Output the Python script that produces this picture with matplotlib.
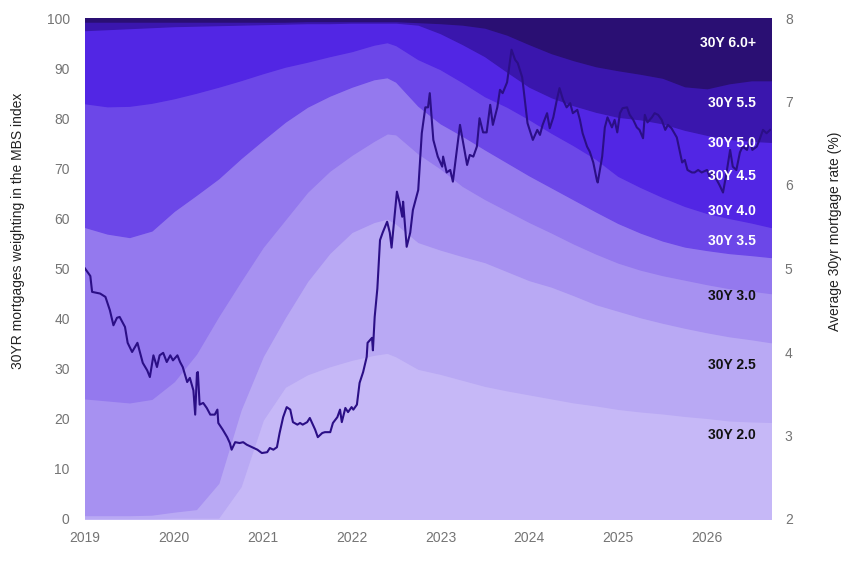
import matplotlib
matplotlib.use("Agg")
import matplotlib.pyplot as plt
import numpy as np

plt.rcParams['font.family'] = ['Liberation Sans', 'DejaVu Sans']

# ---- data ----
years = [2019.0, 2019.25, 2019.5, 2019.75, 2020.0, 2020.25, 2020.5, 2020.75, 2021.0, 2021.25,
         2021.5, 2021.75, 2022.0, 2022.25, 2022.4, 2022.5, 2022.75, 2023.0, 2023.25, 2023.5,
         2023.75, 2024.0, 2024.25, 2024.5, 2024.75, 2025.0, 2025.25, 2025.5, 2025.75, 2026.0,
         2026.25, 2026.5, 2026.72]

coupons = ["30Y 2.0", "30Y 2.5", "30Y 3.0", "30Y 3.5", "30Y 4.0",
           "30Y 4.5", "30Y 5.0", "30Y 5.5", "30Y 6.0+"]

w_20 = [0.2, 0.2, 0.2, 0.2, 0.3, 0.3, 0.3, 6.5, 19.8, 26.4, 28.9, 30.5, 31.8, 32.8, 33.2, 32.5, 30.0,
        29.0, 27.8, 26.6, 25.7, 24.9, 24.1, 23.3, 22.7, 22.0, 21.5, 21.1, 20.6, 20.2, 19.7, 19.5, 19.4]
w_25 = [0.6, 0.6, 0.6, 0.7, 1.2, 1.7, 6.9, 15.3, 12.7, 13.9, 18.6, 22.6, 25.5, 26.5, 26.8, 26.5, 25.3,
        24.8, 24.7, 24.7, 23.8, 22.8, 22.3, 21.4, 20.2, 19.6, 18.8, 18.1, 17.6, 17.1, 16.8, 16.4, 15.9]
w_30 = [23.3, 22.9, 22.5, 23.1, 26.0, 31.0, 33.3, 25.7, 21.8, 19.5, 17.8, 16.4, 15.4, 16.2, 17.0, 17.8, 17.7,
        16.2, 14.0, 12.6, 12.1, 11.6, 10.8, 10.3, 10.1, 9.6, 9.5, 9.5, 9.6, 9.6, 9.6, 9.7, 9.8]
w_35 = [34.2, 33.3, 33.0, 33.6, 34.0, 31.7, 27.5, 24.5, 21.4, 19.5, 17.0, 15.0, 13.6, 12.3, 11.2, 10.5, 9.5,
        9.0, 10.0, 9.9, 9.6, 9.3, 9.0, 8.8, 8.4, 7.9, 7.4, 6.9, 6.6, 6.8, 7.0, 7.1, 7.2]
w_40 = [24.7, 25.4, 26.2, 25.5, 22.5, 20.4, 18.3, 15.6, 13.3, 11.0, 9.0, 7.9, 7.1, 6.9, 7.0, 7.3, 9.3,
        10.8, 10.7, 10.6, 11.1, 11.2, 10.9, 10.8, 10.5, 9.4, 9.1, 8.7, 8.1, 7.4, 7.0, 6.5, 6.0]
w_45 = [12.0, 12.6, 12.6, 12.2, 11.5, 10.6, 9.6, 8.5, 7.4, 6.4, 5.6, 4.7, 4.0, 3.0, 2.6, 3.0, 4.4,
        4.4, 4.5, 4.6, 4.0, 3.6, 3.9, 4.4, 5.1, 6.3, 7.2, 7.7, 7.9, 8.0, 8.1, 8.3, 8.6]
w_50 = [2.6, 2.8, 2.9, 2.9, 2.9, 2.8, 2.7, 2.6, 2.4, 2.2, 2.1, 1.9, 1.7, 1.4, 1.3, 1.5, 2.5,
        2.8, 3.1, 3.4, 3.0, 2.9, 3.2, 3.6, 4.3, 5.5, 6.3, 7.0, 7.3, 7.6, 7.7, 8.0, 8.4]
w_55 = [1.7, 1.5, 1.3, 1.1, 0.9, 0.8, 0.7, 0.6, 0.5, 0.4, 0.4, 0.4, 0.3, 0.3, 0.3, 0.3, 0.5,
        2.0, 3.9, 5.7, 7.4, 8.5, 8.8, 9.0, 9.1, 9.3, 9.1, 9.1, 8.7, 9.3, 11.1, 12.1, 12.3]
w_60 = [0.7, 0.7, 0.7, 0.7, 0.7, 0.7, 0.7, 0.7, 0.7, 0.7, 0.6, 0.6, 0.6, 0.6, 0.6, 0.6, 0.8,
        1.0, 1.3, 1.9, 3.3, 5.2, 7.0, 8.4, 9.6, 10.4, 11.1, 11.9, 13.6, 14.0, 13.0, 12.4, 12.4]

rate_years = [2019.00, 2019.06, 2019.08, 2019.17, 2019.23, 2019.28, 2019.32, 2019.36, 2019.39, 2019.45,
              2019.48, 2019.53, 2019.59, 2019.62, 2019.65, 2019.70, 2019.73, 2019.77, 2019.81, 2019.84,
              2019.88, 2019.92, 2019.96, 2019.99, 2020.04, 2020.07, 2020.10, 2020.15, 2020.18, 2020.22,
              2020.24, 2020.26, 2020.27, 2020.29, 2020.33, 2020.37, 2020.41, 2020.46, 2020.49, 2020.50,
              2020.55, 2020.60, 2020.63, 2020.65, 2020.69, 2020.74, 2020.78, 2020.82, 2020.88, 2020.94,
              2020.99, 2021.05, 2021.08, 2021.12, 2021.16, 2021.19, 2021.23, 2021.27, 2021.31, 2021.34,
              2021.39, 2021.42, 2021.45, 2021.50, 2021.53, 2021.59, 2021.62, 2021.67, 2021.70, 2021.76,
              2021.79, 2021.84, 2021.87, 2021.89, 2021.93, 2021.96, 2022.00, 2022.02, 2022.06, 2022.09,
              2022.13, 2022.17, 2022.18, 2022.23, 2022.24, 2022.26, 2022.29, 2022.32, 2022.35, 2022.40,
              2022.43, 2022.45, 2022.51, 2022.54, 2022.57, 2022.58, 2022.62, 2022.66, 2022.69, 2022.75,
              2022.79, 2022.83, 2022.86, 2022.88, 2022.92, 2022.97, 2023.02, 2023.03, 2023.07, 2023.11,
              2023.14, 2023.19, 2023.22, 2023.25, 2023.30, 2023.33, 2023.37, 2023.41, 2023.44, 2023.48,
              2023.52, 2023.56, 2023.59, 2023.64, 2023.67, 2023.70, 2023.75, 2023.78, 2023.80, 2023.84,
              2023.87, 2023.92, 2023.95, 2023.98, 2024.03, 2024.04, 2024.09, 2024.12, 2024.15, 2024.20,
              2024.23, 2024.27, 2024.31, 2024.34, 2024.38, 2024.42, 2024.46, 2024.49, 2024.54, 2024.57,
              2024.60, 2024.65, 2024.68, 2024.72, 2024.76, 2024.77, 2024.82, 2024.85, 2024.88, 2024.93,
              2024.96, 2024.99, 2025.02, 2025.05, 2025.10, 2025.13, 2025.17, 2025.21, 2025.24, 2025.28,
              2025.30, 2025.33, 2025.38, 2025.41, 2025.45, 2025.49, 2025.53, 2025.56, 2025.60, 2025.66,
              2025.72, 2025.75, 2025.78, 2025.83, 2025.86, 2025.90, 2025.94, 2026.00, 2026.03, 2026.06,
              2026.11, 2026.14, 2026.18, 2026.22, 2026.26, 2026.29, 2026.33, 2026.37, 2026.40, 2026.45,
              2026.48, 2026.51, 2026.56, 2026.59, 2026.63, 2026.67, 2026.71]
rate_values = [5.00, 4.91, 4.72, 4.70, 4.66, 4.50, 4.32, 4.41, 4.42, 4.30,
               4.11, 4.00, 4.11, 3.99, 3.87, 3.78, 3.70, 3.96, 3.82, 3.96,
               3.99, 3.88, 3.96, 3.90, 3.96, 3.88, 3.82, 3.64, 3.69, 3.54,
               3.25, 3.75, 3.76, 3.37, 3.39, 3.33, 3.25, 3.25, 3.31, 3.15,
               3.07, 2.98, 2.91, 2.83, 2.92, 2.91, 2.92, 2.89, 2.86, 2.83,
               2.79, 2.80, 2.85, 2.83, 2.86, 3.03, 3.22, 3.34, 3.31, 3.16,
               3.13, 3.15, 3.13, 3.16, 3.21, 3.07, 2.98, 3.03, 3.04, 3.04,
               3.15, 3.22, 3.31, 3.16, 3.33, 3.28, 3.34, 3.31, 3.37, 3.63,
               3.76, 3.94, 4.11, 4.17, 4.02, 4.42, 4.76, 5.34, 5.43, 5.56,
               5.43, 5.25, 5.92, 5.79, 5.62, 5.80, 5.26, 5.43, 5.70, 5.94,
               6.62, 6.93, 6.93, 7.10, 6.54, 6.34, 6.22, 6.34, 6.15, 6.18,
               6.04, 6.46, 6.72, 6.54, 6.24, 6.36, 6.34, 6.46, 6.80, 6.63,
               6.63, 6.96, 6.72, 6.93, 7.14, 7.10, 7.23, 7.46, 7.62, 7.50,
               7.46, 7.29, 7.02, 6.74, 6.57, 6.54, 6.66, 6.60, 6.72, 6.86,
               6.68, 6.81, 7.02, 7.16, 7.02, 6.93, 6.98, 6.86, 6.90, 6.78,
               6.62, 6.46, 6.40, 6.27, 6.06, 6.03, 6.34, 6.69, 6.81, 6.69,
               6.78, 6.63, 6.86, 6.92, 6.93, 6.84, 6.78, 6.69, 6.66, 6.56,
               6.84, 6.75, 6.81, 6.86, 6.84, 6.78, 6.66, 6.72, 6.68, 6.57,
               6.27, 6.30, 6.18, 6.15, 6.15, 6.18, 6.15, 6.18, 6.10, 6.15,
               6.06, 6.00, 5.91, 6.15, 6.42, 6.22, 6.18, 6.39, 6.46, 6.42,
               6.54, 6.42, 6.46, 6.54, 6.66, 6.62, 6.66]

label_y = [16.8, 30.7, 44.5, 55.5, 61.5, 68.5, 75.0, 83.0, 95.0]
year_ticks = [2019, 2020, 2021, 2022, 2023, 2024, 2025, 2026]

colors = ["#c6b8f7", "#b9a9f4", "#a791f1", "#9479ee", "#6c47e8",
          "#5226e4", "#5226e4", "#3a16ad", "#2a0f73"]
label_colors = ["#111111", "#111111", "#111111", "#ffffff", "#ffffff",
                "#ffffff", "#ffffff", "#ffffff", "#ffffff"]

# ---- figure ----
fig = plt.figure(figsize=(8.5, 5.78), dpi=100)
ax = fig.add_axes([85/850, 59/578, 686/850, 501/578])

polys = ax.stackplot(years, w_20, w_25, w_30, w_35, w_40, w_45, w_50, w_55, w_60,
                     colors=colors)
for p, c in zip(polys, colors):
    p.set_edgecolor(c)
    p.set_linewidth(1.0)
ax.set_xlim(years[0], years[-1])
ax.set_ylim(0, 100)
ax.set_yticks(range(0, 101, 10))
ax.set_xticks(year_ticks)
ax.set_xticklabels([str(y) for y in year_ticks])
for s in ax.spines.values():
    s.set_visible(False)
ax.tick_params(axis='both', length=0, labelsize=10, labelcolor="#747474")
ax.tick_params(axis='y', pad=11)
ax.tick_params(axis='x', pad=9)
ax.set_ylabel("30YR mortgages weighting in the MBS index", fontsize=10,
              color="#222222")
ax.yaxis.set_label_coords(-0.088, 0.575)

ax2 = ax.twinx()
ax2.plot(rate_years, rate_values, color="#2b0f86", linewidth=1.5)
ax2.set_ylim(2, 8)
ax2.set_yticks(range(2, 9))
for s in ax2.spines.values():
    s.set_visible(False)
ax2.tick_params(axis='y', length=0, labelsize=10, labelcolor="#747474", pad=10)
ax2.set_ylabel("Average 30yr mortgage rate (%)", fontsize=10, color="#222222")
ax2.yaxis.set_label_coords(1.083, 0.575)

for name, yv, c in zip(coupons, label_y, label_colors):
    ax2.text(2026.55, yv, name, transform=ax.transData, ha='right', va='center',
             fontsize=10, fontweight='bold', color=c, zorder=10)

fig.savefig("out.png", dpi=100)
